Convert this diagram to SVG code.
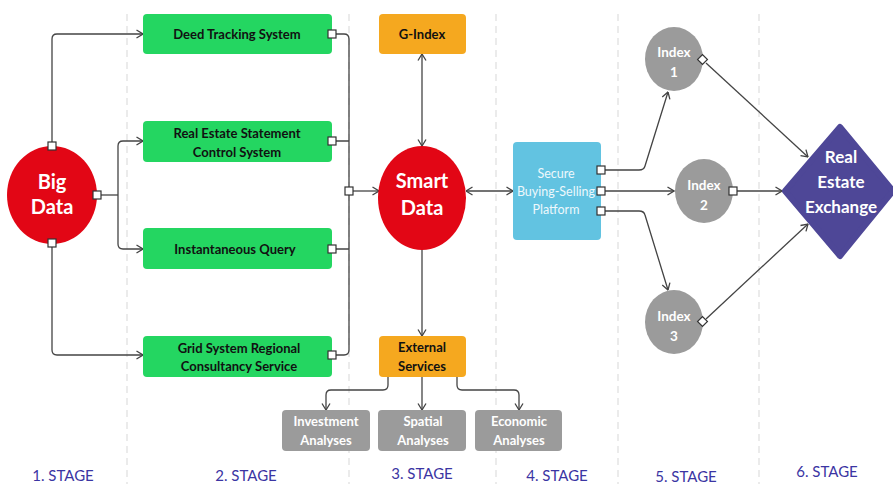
<svg xmlns="http://www.w3.org/2000/svg" width="893" height="484" viewBox="0 0 893 484">
  <defs>
    <marker id="arr" viewBox="0 0 8 10" refX="7.5" refY="5" markerWidth="8" markerHeight="10" markerUnits="userSpaceOnUse" orient="auto-start-reverse">
      <path d="M1,1 L7.5,5 L1,9" fill="none" stroke="#444" stroke-width="1.3"/>
    </marker>
  </defs>
  <style>
    .sep { stroke: #dedede; stroke-width: 1.2; stroke-dasharray: 7 5; fill: none; }
    .con { fill: none; stroke: #444; stroke-width: 1.3; }
    .port { fill: #fff; stroke: #333; stroke-width: 1.2; }
    .green { fill: #24d661; }
    .orange { fill: #f5a81f; }
    .gray { fill: #9b9b9b; }
    .red { fill: #e20615; }
    .t { font-family: Lato, "Liberation Sans", sans-serif; text-anchor: middle; }
    .dark { fill: #111; font-weight: bold; font-size: 13px; }
    .white { fill: #fff; font-weight: bold; }
    .stage { font-family: Lato, "Liberation Sans", sans-serif; fill: #3b35a3; font-size: 15px; text-anchor: middle; }
  </style>

  <rect width="893" height="484" fill="#fff"/>

  <!-- stage separators -->
  <g id="separators">
    <line class="sep" x1="127" y1="14" x2="127" y2="484"/>
    <line class="sep" x1="349" y1="14" x2="349" y2="484"/>
    <line class="sep" x1="496" y1="14" x2="496" y2="484"/>
    <line class="sep" x1="618" y1="14" x2="618" y2="484"/>
    <line class="sep" x1="759" y1="14" x2="759" y2="484"/>
  </g>

  <!-- connectors -->
  <g id="connectors">
    <path class="con" d="M52,146 V39 Q52,34 57,34 H143" marker-end="url(#arr)"/>
    <path class="con" d="M97,195 H118"/>
    <path class="con" d="M118,195 V146 Q118,141 123,141 H143" marker-end="url(#arr)"/>
    <path class="con" d="M118,195 V244 Q118,249 123,249 H143" marker-end="url(#arr)"/>
    <path class="con" d="M52,243 V350 Q52,355 57,355 H143" marker-end="url(#arr)"/>

    <path class="con" d="M332,34 H344 Q349,34 349,39 V350 Q349,355 344,355 H332"/>
    <path class="con" d="M332,141 H349 M332,249 H349"/>
    <path class="con" d="M349,191 H379" marker-end="url(#arr)"/>

    <path class="con" d="M422,54 V146" marker-start="url(#arr)" marker-end="url(#arr)"/>
    <path class="con" d="M422,250 V336" marker-end="url(#arr)"/>
    <path class="con" d="M466,191 H513" marker-start="url(#arr)" marker-end="url(#arr)"/>

    <path class="con" d="M388,377 V385 Q388,390 383,390 H331 Q326,390 326,395 V410" marker-end="url(#arr)"/>
    <path class="con" d="M422,377 V410" marker-end="url(#arr)"/>
    <path class="con" d="M457,377 V385 Q457,390 462,390 H514 Q519,390 519,395 V410" marker-end="url(#arr)"/>

    <path class="con" d="M605,170 H639 Q644,170 645,166 L668,92" marker-end="url(#arr)"/>
    <path class="con" d="M605,191 H674" marker-end="url(#arr)"/>
    <path class="con" d="M605,211 H639 Q644,211 645,215 L668,290" marker-end="url(#arr)"/>

    <path class="con" d="M706,63 L808,157" marker-end="url(#arr)"/>
    <path class="con" d="M737,191 H782" marker-end="url(#arr)"/>
    <path class="con" d="M706,319 L808,224" marker-end="url(#arr)"/>
  </g>

  <g id="big-data">
    <ellipse class="red" cx="52" cy="195" rx="45" ry="49"/>
    <text class="t white" font-size="20" x="52" y="189">Big</text>
    <text class="t white" font-size="20" x="52" y="214">Data</text>
    <rect class="port" x="48" y="142" width="8" height="8"/>
    <rect class="port" x="93" y="191" width="8" height="8"/>
    <rect class="port" x="48" y="239" width="8" height="8"/>
  </g>

  <g id="deed-tracking">
    <rect class="green" x="143" y="14" width="189" height="40" rx="4"/>
    <text class="t dark" x="237" y="39">Deed Tracking System</text>
    <rect class="port" x="328" y="30" width="8" height="8"/>
  </g>

  <g id="statement-control">
    <rect class="green" x="143" y="121" width="189" height="41" rx="4"/>
    <text class="t dark" x="237" y="138">Real Estate Statement</text>
    <text class="t dark" x="237" y="157">Control System</text>
    <rect class="port" x="328" y="137" width="8" height="8"/>
  </g>

  <g id="instantaneous-query">
    <rect class="green" x="143" y="228" width="189" height="41" rx="4"/>
    <text class="t dark" x="235" y="254">Instantaneous Query</text>
    <rect class="port" x="328" y="245" width="8" height="8"/>
  </g>

  <g id="grid-system">
    <rect class="green" x="143" y="336" width="189" height="41" rx="4"/>
    <text class="t dark" x="239" y="353">Grid System Regional</text>
    <text class="t dark" x="239" y="371">Consultancy Service</text>
    <rect class="port" x="328" y="351" width="8" height="8"/>
  </g>

  <g id="bus-port">
    <rect class="port" x="345" y="187" width="8" height="8"/>
  </g>

  <g id="g-index">
    <rect class="orange" x="379" y="14" width="87" height="40" rx="4"/>
    <text class="t dark" x="422" y="39">G-Index</text>
  </g>

  <g id="smart-data">
    <ellipse class="red" cx="422" cy="198" rx="44" ry="52"/>
    <text class="t white" font-size="20" x="422" y="188">Smart</text>
    <text class="t white" font-size="20" x="422" y="215">Data</text>
  </g>

  <g id="external-services">
    <rect class="orange" x="379" y="336" width="87" height="41" rx="4"/>
    <text class="t dark" x="422" y="352">External</text>
    <text class="t dark" x="422" y="371">Services</text>
  </g>

  <g id="investment-analyses">
    <rect class="gray" x="282" y="410" width="88" height="41" rx="4"/>
    <text class="t white" font-size="13" x="326" y="426">Investment</text>
    <text class="t white" font-size="13" x="326" y="445">Analyses</text>
  </g>

  <g id="spatial-analyses">
    <rect class="gray" x="378" y="410" width="88" height="41" rx="4"/>
    <text class="t white" font-size="13" x="423" y="426">Spatial</text>
    <text class="t white" font-size="13" x="423" y="445">Analyses</text>
  </g>

  <g id="economic-analyses">
    <rect class="gray" x="475" y="410" width="87" height="41" rx="4"/>
    <text class="t white" font-size="13" x="519" y="426">Economic</text>
    <text class="t white" font-size="13" x="519" y="445">Analyses</text>
  </g>

  <g id="trading-platform">
    <rect x="513" y="142" width="88" height="98" rx="4" fill="#62c3e1"/>
    <text class="t" fill="#eef8fc" font-size="12.5" x="556" y="178">Secure</text>
    <text class="t" fill="#eef8fc" font-size="12.5" x="556" y="196">Buying-Selling</text>
    <text class="t" fill="#eef8fc" font-size="12.5" x="556" y="214">Platform</text>
    <rect class="port" x="597" y="166" width="8" height="8"/>
    <rect class="port" x="597" y="187" width="8" height="8"/>
    <rect class="port" x="597" y="207" width="8" height="8"/>
  </g>

  <g id="index-1">
    <ellipse class="gray" cx="674" cy="59" rx="29" ry="32"/>
    <text class="t white" font-size="13.5" x="674" y="57">Index</text>
    <text class="t white" font-size="13.5" x="674" y="77">1</text>
    <rect class="port" x="699" y="56" width="7" height="7" transform="rotate(45 702.5 59.5)"/>
  </g>

  <g id="index-2">
    <ellipse class="gray" cx="704" cy="191" rx="29" ry="32"/>
    <text class="t white" font-size="13.5" x="704" y="190">Index</text>
    <text class="t white" font-size="13.5" x="704" y="210">2</text>
    <rect class="port" x="729" y="187" width="8" height="8"/>
  </g>

  <g id="index-3">
    <ellipse class="gray" cx="674" cy="322" rx="29" ry="32"/>
    <text class="t white" font-size="13.5" x="674" y="321">Index</text>
    <text class="t white" font-size="13.5" x="674" y="341">3</text>
    <rect class="port" x="699" y="318" width="7" height="7" transform="rotate(45 702.5 321.5)"/>
  </g>

  <g id="real-estate-exchange">
    <path d="M840,127 L893,191 L840,256 L785,191 Z" fill="#4e4797" stroke="#4e4797" stroke-width="6" stroke-linejoin="round"/>
    <text class="t white" font-size="17" x="841" y="163">Real</text>
    <text class="t white" font-size="17" x="841" y="188">Estate</text>
    <text class="t white" font-size="17" x="841" y="213">Exchange</text>
  </g>

  <g id="stage-labels">
    <text class="stage" x="63" y="481">1. STAGE</text>
    <text class="stage" x="246" y="481">2. STAGE</text>
    <text class="stage" x="422" y="479">3. STAGE</text>
    <text class="stage" x="557" y="481">4. STAGE</text>
    <text class="stage" x="686" y="482">5. STAGE</text>
    <text class="stage" x="827" y="477">6. STAGE</text>
  </g>
</svg>
